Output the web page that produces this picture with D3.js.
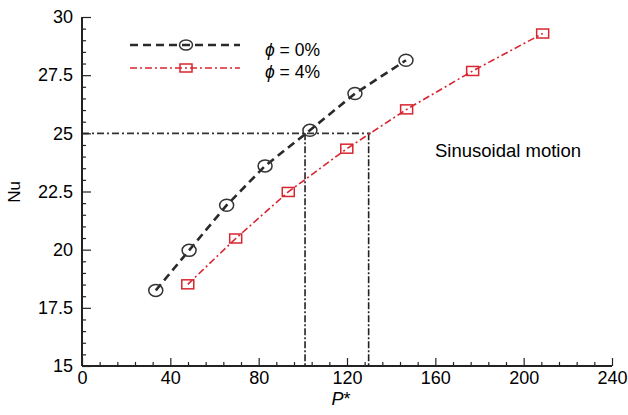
<!DOCTYPE html>
<html><head><meta charset="utf-8">
<script src="https://cdn.jsdelivr.net/npm/d3@7"></script>
<style>body{margin:0;background:#fff}svg{display:block;font-family:"Liberation Sans",Arial,sans-serif}</style>
</head><body><svg id="c" width="628" height="415"></svg>
<script>
const xTicks = [0, 40, 80, 120, 160, 200, 240];
const yTicks = [15, 17.5, 20, 22.5, 25, 27.5, 30];
const yTickLabels = ["15", "17.5", "20", "22.5", "25", "27.5", "30"];
const p0 = [33.4, 48.5, 65.5, 82.9, 103.2, 123.6, 146.7];
const nu0 = [18.25, 19.97, 21.91, 23.6, 25.13, 26.71, 28.14];
const p4 = [47.9, 69.6, 93.4, 119.9, 147.0, 176.9, 208.6];
const nu4 = [18.51, 20.48, 22.48, 24.34, 26.03, 27.68, 29.29];
const refNu = 25;
const refP = [101, 129.8];
const legendLabels = ["0%", "4%"];
const annotation = "Sinusoidal motion";

const svg = d3.select("#c");
const x = d3.scaleLinear().domain([0, 240]).range([82, 612]);
const y = d3.scaleLinear().domain([15, 30]).range([366, 17]);
const ink = "#222";
const red = "#d9252f";
const font = "'Liberation Sans',Arial,sans-serif";

// reference lines
const g = svg.append("g");
g.append("line").attr("x1", x(0)).attr("x2", x(refP[1]) + 2).attr("y1", y(refNu)).attr("y2", y(refNu))
  .attr("stroke", "#333").attr("stroke-width", 1.6).attr("stroke-dasharray", "7,3,2,3");
refP.forEach(p => g.append("line").attr("x1", x(p)).attr("x2", x(p)).attr("y1", y(refNu)).attr("y2", y(15))
  .attr("stroke", "#222").attr("stroke-width", 1.6).attr("stroke-dasharray", "7,2,2,2"));

// axes
const xAxis = d3.axisBottom(x).tickValues(d3.range(0, 241, 8)).tickSize(-4).tickFormat(d => xTicks.includes(d) ? d : "");
const xg = svg.append("g").attr("transform", `translate(0,${y(15)})`).call(xAxis);
xg.select(".domain").attr("stroke", ink).attr("stroke-width", 2).attr("d", `M${x(0)},0H${x(240)}`);
xg.selectAll(".tick line").attr("stroke", ink).attr("stroke-width", 1.2)
  .attr("y2", d => xTicks.includes(d) ? -8 : -4);
xg.selectAll(".tick text").attr("fill", "#000").attr("font-size", 18).attr("y", 5).attr("dy", "0.71em")
  .style("font-family", font);

const yAxis = d3.axisLeft(y).tickValues(d3.range(15, 30.01, 0.5)).tickSize(-4)
  .tickFormat(d => { const i = yTicks.findIndex(t => Math.abs(t - d) < 1e-6); return i >= 0 ? yTickLabels[i] : ""; });
const yg = svg.append("g").attr("transform", `translate(${x(0)},0)`).call(yAxis);
yg.select(".domain").attr("stroke", ink).attr("stroke-width", 2).attr("d", `M0,${y(15)}V${y(30)}`);
yg.selectAll(".tick line").attr("stroke", ink).attr("stroke-width", 1.2)
  .attr("x2", d => yTicks.some(t => Math.abs(t - d) < 1e-6) ? 9 : 4);
yg.selectAll(".tick text").attr("fill", "#000").attr("font-size", 18).attr("x", -9)
  .style("font-family", font);

// axis titles
svg.append("text").attr("transform", `translate(20,192) rotate(-90)`).attr("text-anchor", "middle")
  .attr("font-size", 17).text("Nu");
svg.append("text").attr("x", 341).attr("y", 405).attr("text-anchor", "middle").attr("font-size", 18)
  .html('<tspan font-style="italic">P</tspan>*');

// series
const d0 = p0.map((p, i) => [p, nu0[i]]);
const d4 = p4.map((p, i) => [p, nu4[i]]);
const line = d3.line().x(d => x(d[0])).y(d => y(d[1]));
svg.append("path").attr("d", line(d0)).attr("fill", "none").attr("stroke", "#2a2a2a").attr("stroke-width", 2.6)
  .attr("stroke-dasharray", "8,5");
svg.append("path").attr("d", line(d4)).attr("fill", "none").attr("stroke", red).attr("stroke-width", 1.6)
  .attr("stroke-dasharray", "7,3,2,3");
svg.selectAll(".c0").data(d0).enter().append("ellipse").attr("cx", d => x(d[0])).attr("cy", d => y(d[1]))
  .attr("rx", 7).attr("ry", 6).attr("fill", "none").attr("stroke", "#333").attr("stroke-width", 1.5);
svg.selectAll(".s4").data(d4).enter().append("rect").attr("x", d => x(d[0]) - 6).attr("y", d => y(d[1]) - 4.5)
  .attr("width", 12).attr("height", 9).attr("fill", "none").attr("stroke", red).attr("stroke-width", 1.5);

// legend
const lg = svg.append("g");
lg.append("line").attr("x1", 130).attr("x2", 240).attr("y1", 45).attr("y2", 45).attr("stroke", "#2a2a2a")
  .attr("stroke-width", 2.6).attr("stroke-dasharray", "8,5");
lg.append("ellipse").attr("cx", 186).attr("cy", 45).attr("rx", 6.5).attr("ry", 5).attr("fill", "none")
  .attr("stroke", "#333").attr("stroke-width", 1.5);
lg.append("line").attr("x1", 130).attr("x2", 240).attr("y1", 68).attr("y2", 68).attr("stroke", red)
  .attr("stroke-width", 1.6).attr("stroke-dasharray", "7,3,2,3");
lg.append("rect").attr("x", 180).attr("y", 64).attr("width", 12).attr("height", 8).attr("fill", "none")
  .attr("stroke", red).attr("stroke-width", 1.5);
legendLabels.forEach((t, i) => lg.append("text").attr("x", 265).attr("y", 56 + i * 21.5).attr("font-size", 17.5)
  .html(`<tspan font-style="italic">ϕ</tspan> = ${t}`));

svg.append("text").attr("x", 435).attr("y", 157).attr("font-size", 18.5).text(annotation);
</script></body></html>
